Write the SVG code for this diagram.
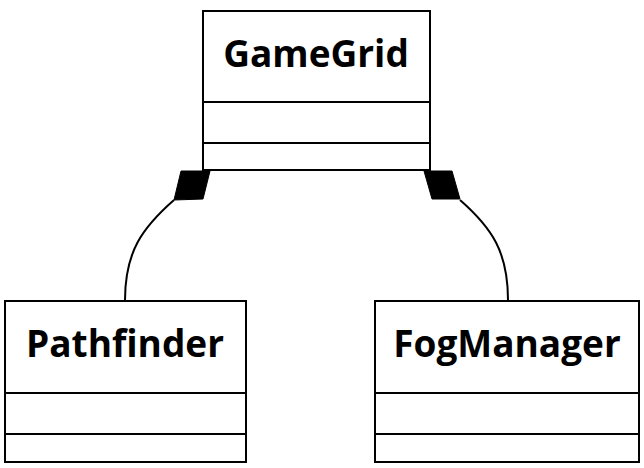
<svg xmlns="http://www.w3.org/2000/svg" width="644" height="468" viewBox="0 0 644 468">
<style>
.box{fill:#fff;stroke:#000;stroke-width:2}
.div{stroke:#000;stroke-width:2}
.t{font-family:"Open Sans","DejaVu Sans",sans-serif;font-weight:700;font-size:37px;text-anchor:middle;fill:#000}
.edge{fill:none;stroke:#000;stroke-width:2}
.dia{fill:#000;stroke:#000;stroke-width:1}
</style>
<rect width="644" height="468" fill="#fff"/>
<g id="connectors">
<path class="edge" d="M174,200 C142,228 125,252 125,300"/>
<polygon class="dia" points="181,171 210,171 203,199 174,200"/>
<path class="edge" d="M460,200 C492,228 508,252 508,300"/>
<polygon class="dia" points="424,171 452,171 460,199 432,199"/>
</g>
<g id="GameGrid">
<rect class="box" x="203" y="11" width="227" height="159"/>
<line class="div" x1="203" y1="102" x2="430" y2="102"/>
<line class="div" x1="203" y1="143" x2="430" y2="143"/>
<text class="t" x="316" y="67">GameGrid</text>
</g>
<g id="Pathfinder">
<rect class="box" x="5" y="301" width="241" height="161"/>
<line class="div" x1="5" y1="393" x2="246" y2="393"/>
<line class="div" x1="5" y1="434" x2="246" y2="434"/>
<text class="t" x="125" y="357">Pathfinder</text>
</g>
<g id="FogManager">
<rect class="box" x="375" y="301" width="264" height="161"/>
<line class="div" x1="375" y1="393" x2="639" y2="393"/>
<line class="div" x1="375" y1="434" x2="639" y2="434"/>
<text class="t" x="507" y="357">FogManager</text>
</g>
</svg>
